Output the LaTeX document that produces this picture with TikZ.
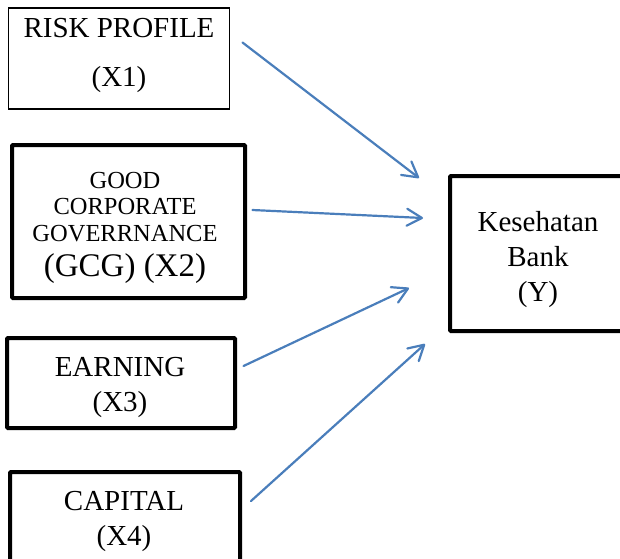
\documentclass[tikz,border=0pt]{standalone}
\usepackage{fontspec}
\setmainfont{Liberation Serif}
\usetikzlibrary{arrows.meta}

\definecolor{linkblue}{RGB}{74,126,187}
\newcommand{\smallcaption}{\fontsize{24.5}{26.5}\selectfont}
\newcommand{\bigcaption}{\fontsize{33}{33}\selectfont}

\tikzset{
  box/.style={draw, line width=4pt, rounded corners=1pt, inner sep=0pt},
  thinbox/.style={draw, line width=1.5pt, inner sep=0pt},
  lbl/.style={align=center, inner sep=0pt, font=\fontsize{29}{35}\selectfont},
  link/.style={draw=linkblue, line width=2.2pt, line cap=round,
               -{Straight Barb[length=15pt,width=17pt,round]}}
}

\begin{document}
\begin{tikzpicture}[x=1pt,y=-1pt]
\clip (0,0) rectangle (620,558);

% Kotak variabel bebas
\node [thinbox, minimum width=221pt, minimum height=101pt] (x1) at (119,58.5) {};
\node [box, minimum width=233pt, minimum height=153pt] (x2) at (128.5,221.5) {};
\node [box, minimum width=228pt, minimum height=90pt]  (x3) at (121,383) {};
\node [box, minimum width=230pt, minimum height=93pt]  (x4) at (125,518.5) {};

% Kotak variabel terikat
\node [box, minimum width=180pt, minimum height=155pt] (y) at (540,253.5) {};

% Teks
\node [lbl] (x1txt) at (119,55.5) {RISK PROFILE\\[14pt](X1)};
\node [lbl, font=\smallcaption] (x2txt) at (125,228)
      {GOOD\\CORPORATE\\GOVERRNANCE\\[9pt]{\bigcaption (GCG) (X2)}};
\node [lbl] (x3txt) at (120,387.5) {EARNING\\(X3)};
\node [lbl] (x4txt) at (124,521) {CAPITAL\\(X4)};
\node [lbl] (ytxt) at (538,259.5) {Kesehatan\\Bank\\(Y)};

% Ujung panah
\coordinate (s1) at (242.5,42.5);  \coordinate (e1) at (419,178);
\coordinate (s2) at (252.5,210);   \coordinate (e2) at (423,218);
\coordinate (s3) at (243.5,366);   \coordinate (e3) at (409,288);
\coordinate (s4) at (251,501);     \coordinate (e4) at (425,344);

% Panah
\foreach \s/\e in {s1/e1, s2/e2, s3/e3, s4/e4}
  \draw [link] (\s) -- (\e);

\end{tikzpicture}
\end{document}
